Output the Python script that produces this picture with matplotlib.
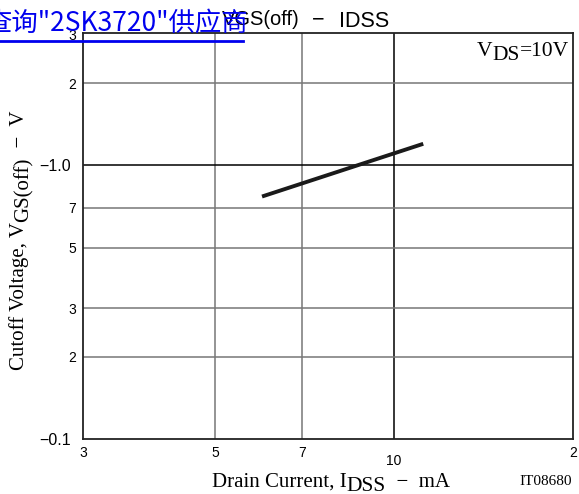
import matplotlib
matplotlib.use("Agg")
import matplotlib.pyplot as plt
import matplotlib.transforms as mtrans
import numpy as np

# ---- data ----
idss_ma = [6.0, 11.2]          # drain current, mA
vgs_off = [0.77, 1.20]         # |cutoff voltage|, V
x_ticks = [3, 5, 7, 10, 20]
x_labels = ["3", "5", "7", "10", "2"]
y_ticks = [0.1, 0.2, 0.3, 0.5, 0.7, 1.0, 2, 3]
y_labels = ["\u22120.1", "2", "3", "5", "7", "\u22121.0", "2", "3"]
x_grid = [5, 7, 10]
y_grid = [0.2, 0.3, 0.5, 0.7, 1.0, 2]

W, H = 579, 494
fig = plt.figure(figsize=(W / 100, H / 100), dpi=100)
ax = fig.add_axes([83 / W, 1 - 439 / H, (573 - 83) / W, (439 - 33) / H])
ax.set_xscale("log")
ax.set_yscale("log")
ax.set_xlim(3, 20)
ax.set_ylim(0.1, 3.05)

for xv in x_grid:
    ax.axvline(xv, color="#000000" if xv == 10 else "#777777", lw=1.1, zorder=1)
for yv in y_grid:
    ax.axhline(yv, color="#000000" if yv == 1.0 else "#777777", lw=1.1, zorder=1)

ax.plot(idss_ma, vgs_off, color="#1a1a1a", lw=2.8, solid_capstyle="butt", zorder=3)

ax.xaxis.set_minor_locator(matplotlib.ticker.NullLocator())
ax.yaxis.set_minor_locator(matplotlib.ticker.NullLocator())
ax.set_xticks(x_ticks)
ax.set_xticklabels(x_labels, fontfamily="Liberation Sans", fontsize=10)
ax.set_yticks(y_ticks)
ax.set_yticklabels(y_labels, fontfamily="Liberation Sans", fontsize=10)
ax.tick_params(length=0, pad=5)
ax.tick_params(axis="y", pad=5)
for lab in ax.get_xticklabels():
    if lab.get_text() == "10":
        lab.set_transform(lab.get_transform() + mtrans.ScaledTranslation(0, -6 / 72, fig.dpi_scale_trans))
for lab in ax.get_yticklabels():
    if lab.get_text().startswith("\u2212"):
        lab.set_fontsize(11.5)
        lab.set_transform(lab.get_transform() + mtrans.ScaledTranslation(-5 / 100, 0, fig.dpi_scale_trans))
for sp in ax.spines.values():
    sp.set_linewidth(1.3)
    sp.set_color("#222222")

serif = "Liberation Serif"
sans = "Liberation Sans"

def px(x, y):
    return x / W, 1 - y / H

# x label
t = fig.text(*px(212, 487), "Drain Current, I", fontfamily=serif, fontsize=15, ha="left", va="baseline")
t2 = ax.annotate("DSS", xy=(1, 0), xycoords=t, xytext=(0, -3), textcoords="offset points",
                 fontfamily=serif, fontsize=15.5, ha="left", va="bottom", annotation_clip=False)
ax.annotate("  \u2212  mA", xy=(1, 0), xycoords=t2, xytext=(0, 3), textcoords="offset points",
            fontfamily=serif, fontsize=15, ha="left", va="bottom", annotation_clip=False)

# y label
yl = fig.text(*px(29, 370), "Cutoff Voltage, V", fontfamily=serif, fontsize=15,
              rotation=90, ha="right", va="bottom")
yl2 = ax.annotate("GS(off)", xy=(1, 1), xycoords=yl, xytext=(3, 0), textcoords="offset points",
                  fontfamily=serif, fontsize=15, rotation=90, ha="right", va="bottom", annotation_clip=False)
ax.annotate("  \u2212  V", xy=(1, 1), xycoords=yl2, xytext=(-3, 0), textcoords="offset points",
            fontfamily=serif, fontsize=15, rotation=90, ha="right", va="bottom", annotation_clip=False)

# VDS annotation
v1 = fig.text(*px(477, 56), "V", fontfamily=serif, fontsize=15.5, ha="left", va="baseline")
v2 = ax.annotate("DS", xy=(1, 0), xycoords=v1, xytext=(0, -3), textcoords="offset points",
                 fontfamily=serif, fontsize=15.5, ha="left", va="bottom", annotation_clip=False)
ax.annotate("=10V", xy=(1, 0), xycoords=v2, xytext=(0, 3), textcoords="offset points",
            fontfamily=serif, fontsize=15.5, ha="left", va="bottom", annotation_clip=False)

fig.text(*px(519, 485), "IT08680", fontfamily=serif, fontsize=11, ha="left", va="baseline")

# title
fig.text(*px(222, 25), "VGS(off)", fontfamily=sans, fontsize=14.5, ha="left", va="baseline")
fig.text(*px(318, 25), "\u2212", fontfamily=sans, fontsize=15.5, ha="center", va="baseline")
fig.text(*px(339, 27), "IDSS", fontfamily=sans, fontsize=15.5, ha="left", va="baseline")

# watermark link text
fig.text(*px(-15, 31), "查询\"2SK3720\"供应商", fontfamily=["Noto Sans CJK SC", "DejaVu Sans"],
         fontsize=19, color="#0000ee", ha="left", va="baseline", zorder=10)
fig.add_artist(plt.Line2D([0, 243 / W], [1 - 41.5 / H] * 2, color="#0000ee", lw=2, zorder=10))

fig.savefig("out.png", dpi=100)
